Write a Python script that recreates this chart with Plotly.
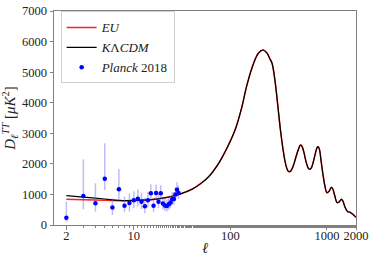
import plotly.graph_objects as go

# Theory curve
ell_th = [2, 3, 4, 5, 6, 7, 8, 10, 15, 20, 25, 30, 40, 50, 60, 75, 85, 100,
          113, 130, 149, 174, 195, 218, 240, 255, 270, 292, 310, 330, 350, 370, 390,
          402, 420, 450, 480, 510, 531, 550, 575, 610, 640, 664, 690, 720, 760, 790,
          810, 835, 870, 910, 950, 1000, 1050, 1113, 1150, 1200, 1274, 1340, 1415,
          1470, 1540, 1640, 1720, 1800, 1900, 2000]
d_lcdm = [958, 915, 880, 850, 825, 810, 800, 805, 830, 880, 940, 1010, 1170,
          1370, 1590, 2000, 2300, 2750, 3150, 3800, 4600, 5290, 5620, 5724,
          5620, 5450, 5290, 4635, 3900, 3108, 2500, 2050, 1800, 1745, 1760, 1950,
          2250, 2500, 2617, 2580, 2400, 2050, 1860, 1822, 1870, 2050, 2350, 2530,
          2561, 2480, 2100, 1650, 1300, 1057, 1100, 1233, 1180, 980, 733, 760, 840,
          770, 580, 435, 420, 380, 320, 250]
# EU model differs only at low multipoles
d_eu_low = [840, 830, 820, 810, 800, 795, 792, 800, 828, 880]
d_eu = d_eu_low + d_lcdm[len(d_eu_low):]

# Planck 2018 low-ell data
ell_pl = list(range(2, 30))
d_pl = [239, 949, 709, 1515, 570, 1168, 631, 720, 808, 860, 762, 612, 808, 1040,
        631, 1047, 762, 1040, 700, 640, 620, 680, 740, 840, 850, 1000, 1150, 1050]
err_up = [523, 1200, 654, 1157, 303, 664, 295, 316, 300, 300, 290, 280, 280, 290,
          260, 280, 250, 260, 230, 220, 220, 220, 220, 230, 230, 240, 250, 240]
err_dn = [131, 436, 273, 370, 243, 350, 216, 284, 250, 250, 240, 230, 230, 240,
          210, 230, 210, 220, 190, 180, 180, 180, 190, 190, 190, 200, 210, 200]

x_tickvals = [2, 10, 100, 1000, 2000]
x_ticktext = ["2", "10", "100", "1000", "2000"]
y_tickvals = [0, 1000, 2000, 3000, 4000, 5000, 6000, 7000]

FONT = "Liberation Serif"

fig = go.Figure()
fig.add_trace(go.Scatter(x=ell_th, y=d_eu, mode="lines", name="<i>EU</i>",
                         line=dict(color="#ff2020", width=1.5, shape="spline")))
fig.add_trace(go.Scatter(x=ell_th, y=d_lcdm, mode="lines", name="<i>K</i>Λ<i>CDM</i>",
                         line=dict(color="#000000", width=1.2, shape="spline")))
fig.add_trace(go.Scatter(x=ell_pl, y=d_pl, mode="markers", name="<i>Planck</i> 2018",
                         marker=dict(color="#0000ff", size=4.5),
                         error_y=dict(type="data", array=err_up, arrayminus=err_dn,
                                      color="rgba(100,100,230,0.42)", thickness=1.5, width=0)))

axis_common = dict(showline=True, linecolor="#808080", linewidth=1, mirror=True,
                   showgrid=False, zeroline=False, ticks="outside", ticklen=3.5,
                   automargin=False,
                   tickcolor="#808080", tickfont=dict(family=FONT, size=12.5, color="#222"))

fig.update_xaxes(type="log", range=[0.173, 3.301], tickvals=x_tickvals, ticktext=x_ticktext,
                 ticklabelstandoff=-5,
                 minor=dict(ticks="outside", ticklen=2, tickcolor="#808080", showgrid=False),
                 title=dict(text="<i>ℓ</i>", font=dict(family=FONT, size=15, color="#222"), standoff=0),
                 **axis_common)
fig.update_yaxes(range=[0, 7000], tickvals=y_tickvals,
                 title=dict(text="<i>D</i><sub><i>ℓ</i></sub><sup><i>TT</i></sup> [<i>μK</i><sup>2</sup>]",
                            font=dict(family=FONT, size=15, color="#222"), standoff=3),
                 **axis_common)

fig.update_layout(
    width=374, height=262,
    margin=dict(l=54, r=18, t=11, b=37, autoexpand=False),
    paper_bgcolor="white", plot_bgcolor="white",
    showlegend=True,
    legend=dict(x=0.022, y=0.998, xanchor="left", yanchor="top",
                bgcolor="white", bordercolor="#d0d0d0", borderwidth=1,
                font=dict(family=FONT, size=13, color="#222"),
                tracegroupgap=0, itemwidth=30),
)

fig.write_html("out.html", config={"displayModeBar": False},
               post_script="document.body.style.margin='0px';document.body.style.padding='0px';document.body.style.overflow='hidden';")
